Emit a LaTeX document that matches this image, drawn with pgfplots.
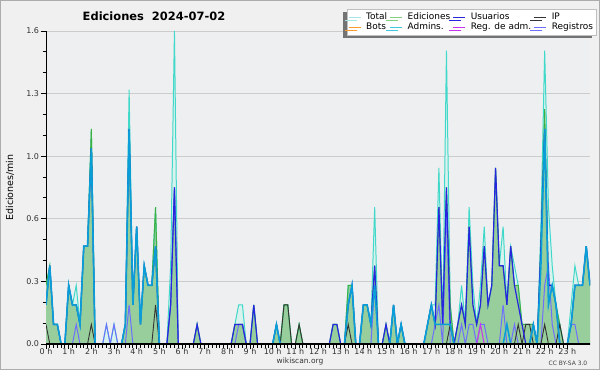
\documentclass[border=0pt]{standalone}
\usepackage{fontspec}
\setmainfont{DejaVu Sans}
\usepackage{pgfplots}
\pgfplotsset{compat=1.18}
\usepackage{pgfplotstable}
\usetikzlibrary{shadows}
\definecolor{bg}{HTML}{F0F0F0}
\definecolor{plotbg}{HTML}{EEEFF1}
\definecolor{cTotal}{HTML}{40D8C8}
\definecolor{cTotalFill}{HTML}{D8F2EE}
\definecolor{cEd}{HTML}{3CB043}
\definecolor{cEdFill}{HTML}{93CB96}
\definecolor{cUs}{HTML}{2626E0}
\definecolor{cIP}{HTML}{333333}
\definecolor{cAd}{HTML}{0A9ED8}
\definecolor{cReg}{HTML}{6E6EFF}
\definecolor{cRA}{HTML}{CC33EE}
\definecolor{cBot}{HTML}{FF9A2E}
\definecolor{lTotal}{HTML}{A8E6E6}
\definecolor{lEd}{HTML}{80D080}
\definecolor{lAd}{HTML}{40C8E0}

\pgfplotstableread{
i T E U IP A R RA
0 3 3 2 1 2 0 0
1 4 4 4 0 4 0 0
2 1 1 1 0 1 0 0
3 1 1 1 0 1 0 0
4 0 0 0 0 0 0 0
5 0 0 0 0 0 0 0
6 3 3 3 0 3 0 0
7 2 2 2 0 2 0 0
8 3 2 2 0 2 1 0
9 1 1 1 0 1 0 0
10 5 5 5 0 5 0 0
11 5 5 5 0 5 0 0
12 11 11 10 1 10 0 0
13 0 0 0 0 0 0 0
14 0 0 0 0 0 0 0
15 0 0 0 0 0 0 0
16 1 0 0 0 0 1 0
17 0 0 0 0 0 0 0
18 1 0 0 0 0 1 0
19 0 0 0 0 0 0 0
20 0 0 0 0 0 0 0
21 1 1 1 0 1 0 0
22 13 11 11 0 11 2 0
23 2 2 2 0 2 0 0
24 6 6 6 0 6 0 0
25 1 1 1 0 1 0 0
26 4 4 4 0 4 0 0
27 3 3 3 0 3 0 0
28 3 3 3 0 3 0 0
29 7 7 5 2 5 0 0
30 0 0 0 0 0 0 0
31 0 0 0 0 0 0 0
32 0 0 0 0 0 0 0
33 4 2 2 0 0 2 0
34 16 8 8 0 0 8 0
35 0 0 0 0 0 0 0
36 0 0 0 0 0 0 0
37 0 0 0 0 0 0 0
38 0 0 0 0 0 0 0
39 0 0 0 0 0 0 0
40 1 1 1 0 0 0 0
41 0 0 0 0 0 0 0
42 0 0 0 0 0 0 0
43 0 0 0 0 0 0 0
44 0 0 0 0 0 0 0
45 0 0 0 0 0 0 0
46 0 0 0 0 0 0 0
47 0 0 0 0 0 0 0
48 0 0 0 0 0 0 0
49 0 0 0 0 0 0 0
50 1 1 1 0 0 0 0
51 2 1 1 0 0 1 0
52 2 1 1 0 0 1 0
53 0 0 0 0 0 0 0
54 0 0 0 0 0 0 0
55 2 2 2 0 0 0 0
56 0 0 0 0 0 0 0
57 0 0 0 0 0 0 0
58 0 0 0 0 0 0 0
59 0 0 0 0 0 0 0
60 0 0 0 0 0 0 0
61 1 1 1 0 1 0 0
62 0 0 0 0 0 0 0
63 2 2 0 2 0 0 0
64 2 2 0 2 0 0 0
65 0 0 0 0 0 0 0
66 0 0 0 0 0 0 0
67 1 1 0 1 0 0 0
68 0 0 0 0 0 0 0
69 0 0 0 0 0 0 0
70 0 0 0 0 0 0 0
71 0 0 0 0 0 0 0
72 0 0 0 0 0 0 0
73 0 0 0 0 0 0 0
74 0 0 0 0 0 0 0
75 0 0 0 0 0 0 0
76 1 1 1 0 0 0 0
77 1 1 1 0 0 0 0
78 0 0 0 0 0 0 0
79 0 0 0 0 0 0 0
80 3 3 2 1 2 0 0
81 3 3 3 0 3 0 0
82 0 0 0 0 0 0 0
83 0 0 0 0 0 0 0
84 2 2 2 0 2 0 0
85 2 2 2 0 2 0 0
86 1 1 1 0 1 0 0
87 7 4 4 0 3 3 0
88 0 0 0 0 0 0 0
89 0 0 0 0 0 0 0
90 1 1 1 0 0 0 0
91 0 0 0 0 0 0 0
92 2 2 2 0 2 0 0
93 0 0 0 0 0 0 0
94 1 1 1 0 1 0 0
95 0 0 0 0 0 0 0
96 0 0 0 0 0 0 0
97 0 0 0 0 0 0 0
98 0 0 0 0 0 0 0
99 0 0 0 0 0 0 0
100 0 0 0 0 0 0 0
101 1 1 1 0 1 0 0
102 2 2 2 0 2 0 0
103 2 1 1 0 1 1 0
104 9 7 7 0 1 2 0
105 1 1 1 0 1 0 0
106 15 8 8 0 1 7 0
107 2 2 1 1 1 0 0
108 0 0 0 0 0 0 0
109 1 1 1 0 0 0 0
110 3 2 2 0 0 1 0
111 1 1 1 0 0 0 0
112 7 6 6 0 0 1 0
113 3 2 2 0 0 1 0
114 1 1 1 0 0 0 0
115 3 2 2 0 0 1 1
116 6 5 5 0 0 1 0
117 2 2 2 0 0 0 0
118 3 3 3 0 0 0 0
119 9 9 9 0 0 0 0
120 4 4 4 0 0 0 0
121 6 4 4 0 0 2 0
122 2 2 2 0 1 0 0
123 5 5 5 0 0 0 0
124 4 3 3 0 0 1 0
125 3 3 2 1 0 0 0
126 1 1 1 0 0 0 0
127 1 1 0 1 0 0 0
128 1 1 0 1 0 0 0
129 1 1 1 0 1 0 0
130 0 0 0 0 0 0 0
131 6 5 5 0 4 0 0
132 15 12 11 1 11 3 0
133 7 3 3 0 2 4 0
134 4 3 3 0 3 1 0
135 2 2 2 0 2 0 0
136 1 1 0 1 0 0 0
137 0 0 0 0 0 0 0
138 0 0 0 0 0 0 0
139 2 1 1 0 1 1 0
140 4 3 3 0 3 1 0
141 3 3 3 0 3 0 0
142 3 3 3 0 3 0 0
143 5 5 5 0 5 0 0
144 3 3 3 0 3 0 0
}\data

\begin{document}
\begin{tikzpicture}[x=1bp,y=1bp]
\useasboundingbox (0,0) rectangle (600,370);
\fill[bg] (0,0) rectangle (600,370);
\draw[gray!65, line width=1bp] (0.5,0.5) rectangle (599.5,369.5);
\node[font=\bfseries\fontsize{11.5}{13}\selectfont] at (154,354) {Ediciones\ \ 2024-07-02};
\node[font=\fontsize{7.5}{9}\selectfont, text=black!80] at (300,8.5) {wikiscan.org};
\node[font=\fontsize{6}{7}\selectfont, text=black!75] at (568,7) {CC BY-SA 3.0};
\begin{axis}[
  at={(46bp,26bp)}, anchor=south west,
  scale only axis, width=544bp, height=313bp,
  xmin=0, xmax=144, ymin=0, ymax=1.6,
  enlargelimits=false,
  axis lines*=left,
  axis line style={black, line width=1bp},
  axis background/.style={fill=plotbg},
  tick align=outside,
  major tick length=5bp, minor tick length=3.5bp,
  tick style={black, line width=0.9bp},
  xtick={0,6,...,138},
  xticklabels={0 h,1 h,2 h,3 h,4 h,5 h,6 h,7 h,8 h,9 h,10 h,11 h,12 h,13 h,14 h,15 h,16 h,17 h,18 h,19 h,20 h,21 h,22 h,23 h},
  minor x tick num=5,
  ytick={0,0.32,0.64,0.96,1.28,1.6},
  yticklabels={0.0,0.3,0.6,1.0,1.3,1.6},
  minor y tick num=2,
  ymajorgrids,
  grid style={color=black!20, line width=0.9bp},
  /pgf/number format/assume math mode=true,
  ticklabel style={font=\fontsize{8}{9}\selectfont, text=black!80},
  xticklabel style={yshift=4.5bp},
  yticklabel style={xshift=1.5bp},
  ylabel={Ediciones/min},
  every axis y label/.style={at={(axis description cs:0,0.5)}, xshift=-36bp, rotate=90, anchor=center, font=\fontsize{9.5}{11}\selectfont},
  legend columns=4,
  legend cell align=left,
  legend style={at={(0.5533,1.07)}, anchor=north west, draw=black!25, fill=white,
    font=\fontsize{9}{10}\selectfont, inner xsep=1bp, inner ysep=3bp,
    row sep=0bp,
    nodes={inner xsep=2bp, inner ysep=0.8bp},
    /tikz/every odd column/.append style={column sep=3bp},
    /tikz/every even column/.append style={column sep=0.5bp},
    drop shadow={shadow xshift=-4bp, shadow yshift=-3bp, fill=black!55, opacity=1}},
  legend image code/.code={\draw[#1] (0bp,0bp) -- (12bp,0bp);},
]
\addplot[fill=cTotalFill, draw=none, forget plot] table[x=i, y expr=\thisrow{T}/10] {\data} \closedcycle;
\addplot[fill=cEdFill, fill opacity=0.92, draw=none, forget plot] table[x=i, y expr=\thisrow{E}/10] {\data} \closedcycle;
\addplot[cTotal, line width=1bp, forget plot] table[x=i, y expr=\thisrow{T}/10] {\data};
\addplot[cEd, line width=1bp, forget plot] table[x=i, y expr=\thisrow{E}/10] {\data};
\addplot[cReg, line width=1bp, forget plot] table[x=i, y expr=\thisrow{R}/10] {\data};
\addplot[cRA, line width=1bp, forget plot] table[x=i, y expr=\thisrow{RA}/10] {\data};
\addplot[cIP, line width=0.9bp, forget plot] table[x=i, y expr=\thisrow{IP}/10] {\data};
\addplot[cUs, line width=1.2bp, forget plot] table[x=i, y expr=\thisrow{U}/10] {\data};
\addplot[cAd, line width=1.6bp, forget plot] table[x=i, y expr=\thisrow{A}/10] {\data};
\draw[black, line width=1.4bp] (axis cs:0,0) -- (axis cs:144,0);
\addlegendimage{lTotal, line width=1bp}\addlegendentry{Total}
\addlegendimage{lEd, line width=1bp}\addlegendentry{Ediciones}
\addlegendimage{cUs, line width=1bp}\addlegendentry{Usuarios}
\addlegendimage{cIP, line width=1bp}\addlegendentry{IP}
\addlegendimage{cBot, line width=1bp}\addlegendentry{Bots}
\addlegendimage{lAd, line width=1bp}\addlegendentry{Admins.}
\addlegendimage{cRA, line width=1bp}\addlegendentry{Reg. de adm.}
\addlegendimage{cReg, line width=1bp}\addlegendentry{Registros}
\end{axis}
\end{tikzpicture}
\end{document}
